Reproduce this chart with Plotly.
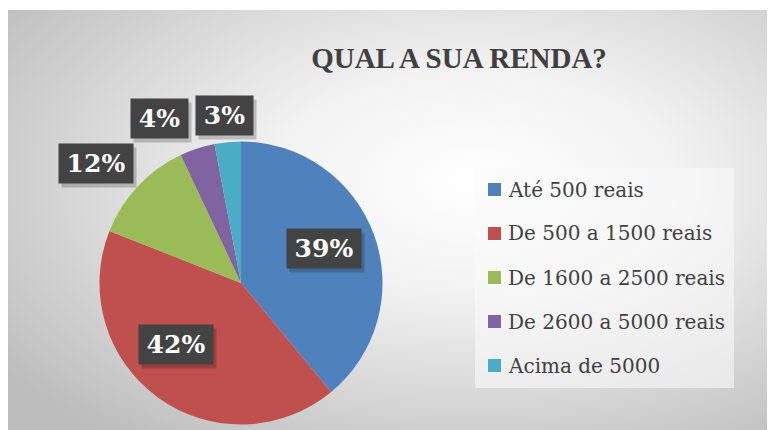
import math
import plotly.graph_objects as go

# data
labels = ["Até 500 reais", "De 500 a 1500 reais", "De 1600 a 2500 reais",
          "De 2600 a 5000 reais", "Acima de 5000"]
values = [39, 42, 12, 4, 3]
colors = ["#4f81bd", "#c0504d", "#9bbb59", "#8064a2", "#4bacc6"]
title = "QUAL A SUA RENDA?"

# label placement: distance from centre (in radii) and angular nudge (deg)
label_dist = [0.636, 0.635, 1.33, 1.30, 1.186]
label_nudge = [-2.8, 10.4, -3.8, -8.3, -0.2]

W, H = 775, 430
cx, cy, R = 233, 275, 141.5          # pie centre / radius in px


def X(px):
    return px / W


def Y(py):
    return 1 - py / H


bg_svg = (
    "data:image/svg+xml;utf8,"
    "<svg xmlns='http://www.w3.org/2000/svg' width='767' height='420' preserveAspectRatio='none'>"
    "<defs><radialGradient id='g' cx='0.6' cy='0.4' r='0.75'>"
    "<stop offset='0' stop-color='%23ffffff'/>"
    "<stop offset='0.35' stop-color='%23f2f2f2'/>"
    "<stop offset='1' stop-color='%23bdbdbd'/>"
    "</radialGradient></defs>"
    "<rect width='767' height='420' fill='url(%23g)'/></svg>"
)

fig = go.Figure()
fig.add_trace(go.Pie(
    labels=labels, values=values, sort=False, direction="clockwise", rotation=0,
    marker=dict(colors=colors, line=dict(width=0)), textinfo="none",
    hoverinfo="label+percent", showlegend=False,
    domain=dict(x=[X(cx - R), X(cx + R)], y=[Y(cy + R), Y(cy - R)]),
))

# percentage labels, placed along each slice's mid angle
total = sum(values)
cum = 0
anns = []
for v, d, nudge in zip(values, label_dist, label_nudge):
    mid = math.radians((cum + v / 2) / total * 360 + nudge)
    cum += v
    txt = "%d%%" % round(v / total * 100)
    dx, dy = d * R * math.sin(mid), d * R * math.cos(mid)
    box = dict(x=X(cx), y=Y(cy), xref="paper", yref="paper", showarrow=False,
               xanchor="center", yanchor="middle",
               width=17 * len(txt) + 23, height=39, borderpad=0, valign="middle")
    # soft drop shadow, then the label itself
    anns.append(dict(box, xshift=dx + 3, yshift=dy - 4, text="",
                     bgcolor="rgba(0,0,0,0.2)"))
    anns.append(dict(box, xshift=dx, yshift=dy, text="<b>" + txt + "</b>",
                     font=dict(family="DejaVu Serif", size=25, color="white"),
                     bgcolor="#434343"))

# legend box built from the same labels/colours
lx0, ly0, lx1, ly1 = 467, 160, 726, 380
shapes = [dict(type="rect", xref="paper", yref="paper", x0=X(lx0), x1=X(lx1), y0=Y(ly1), y1=Y(ly0),
               fillcolor="rgba(250,250,250,0.6)", line=dict(width=0), layer="below")]
for i, (lab, col) in enumerate(zip(labels, colors)):
    yc = 181.5 + 44 * i
    shapes.append(dict(type="rect", xref="paper", yref="paper", x0=X(480), x1=X(493),
                       y0=Y(yc + 6.5), y1=Y(yc - 6.5), fillcolor=col, line=dict(width=0)))
    anns.append(dict(x=X(498), y=Y(yc), xref="paper", yref="paper", showarrow=False,
                     xanchor="left", yanchor="middle", text=lab,
                     font=dict(family="DejaVu Serif", size=20, color="#404040")))

fig.update_layout(
    width=W, height=H, margin=dict(l=0, r=0, t=0, b=0),
    paper_bgcolor="white", plot_bgcolor="rgba(0,0,0,0)", showlegend=False,
    title=dict(text="<b>" + title + "</b>", x=X(451), xanchor="center", y=Y(50), yanchor="middle",
               font=dict(family="Liberation Serif", size=29, color="#404040")),
    images=[dict(source=bg_svg, xref="paper", yref="paper", x=0, y=Y(2),
                 sizex=1, sizey=1 - 2 / H, xanchor="left", yanchor="top",
                 sizing="stretch", layer="below")],
    shapes=shapes,
    annotations=anns,
)

fig.write_html("out.html")
